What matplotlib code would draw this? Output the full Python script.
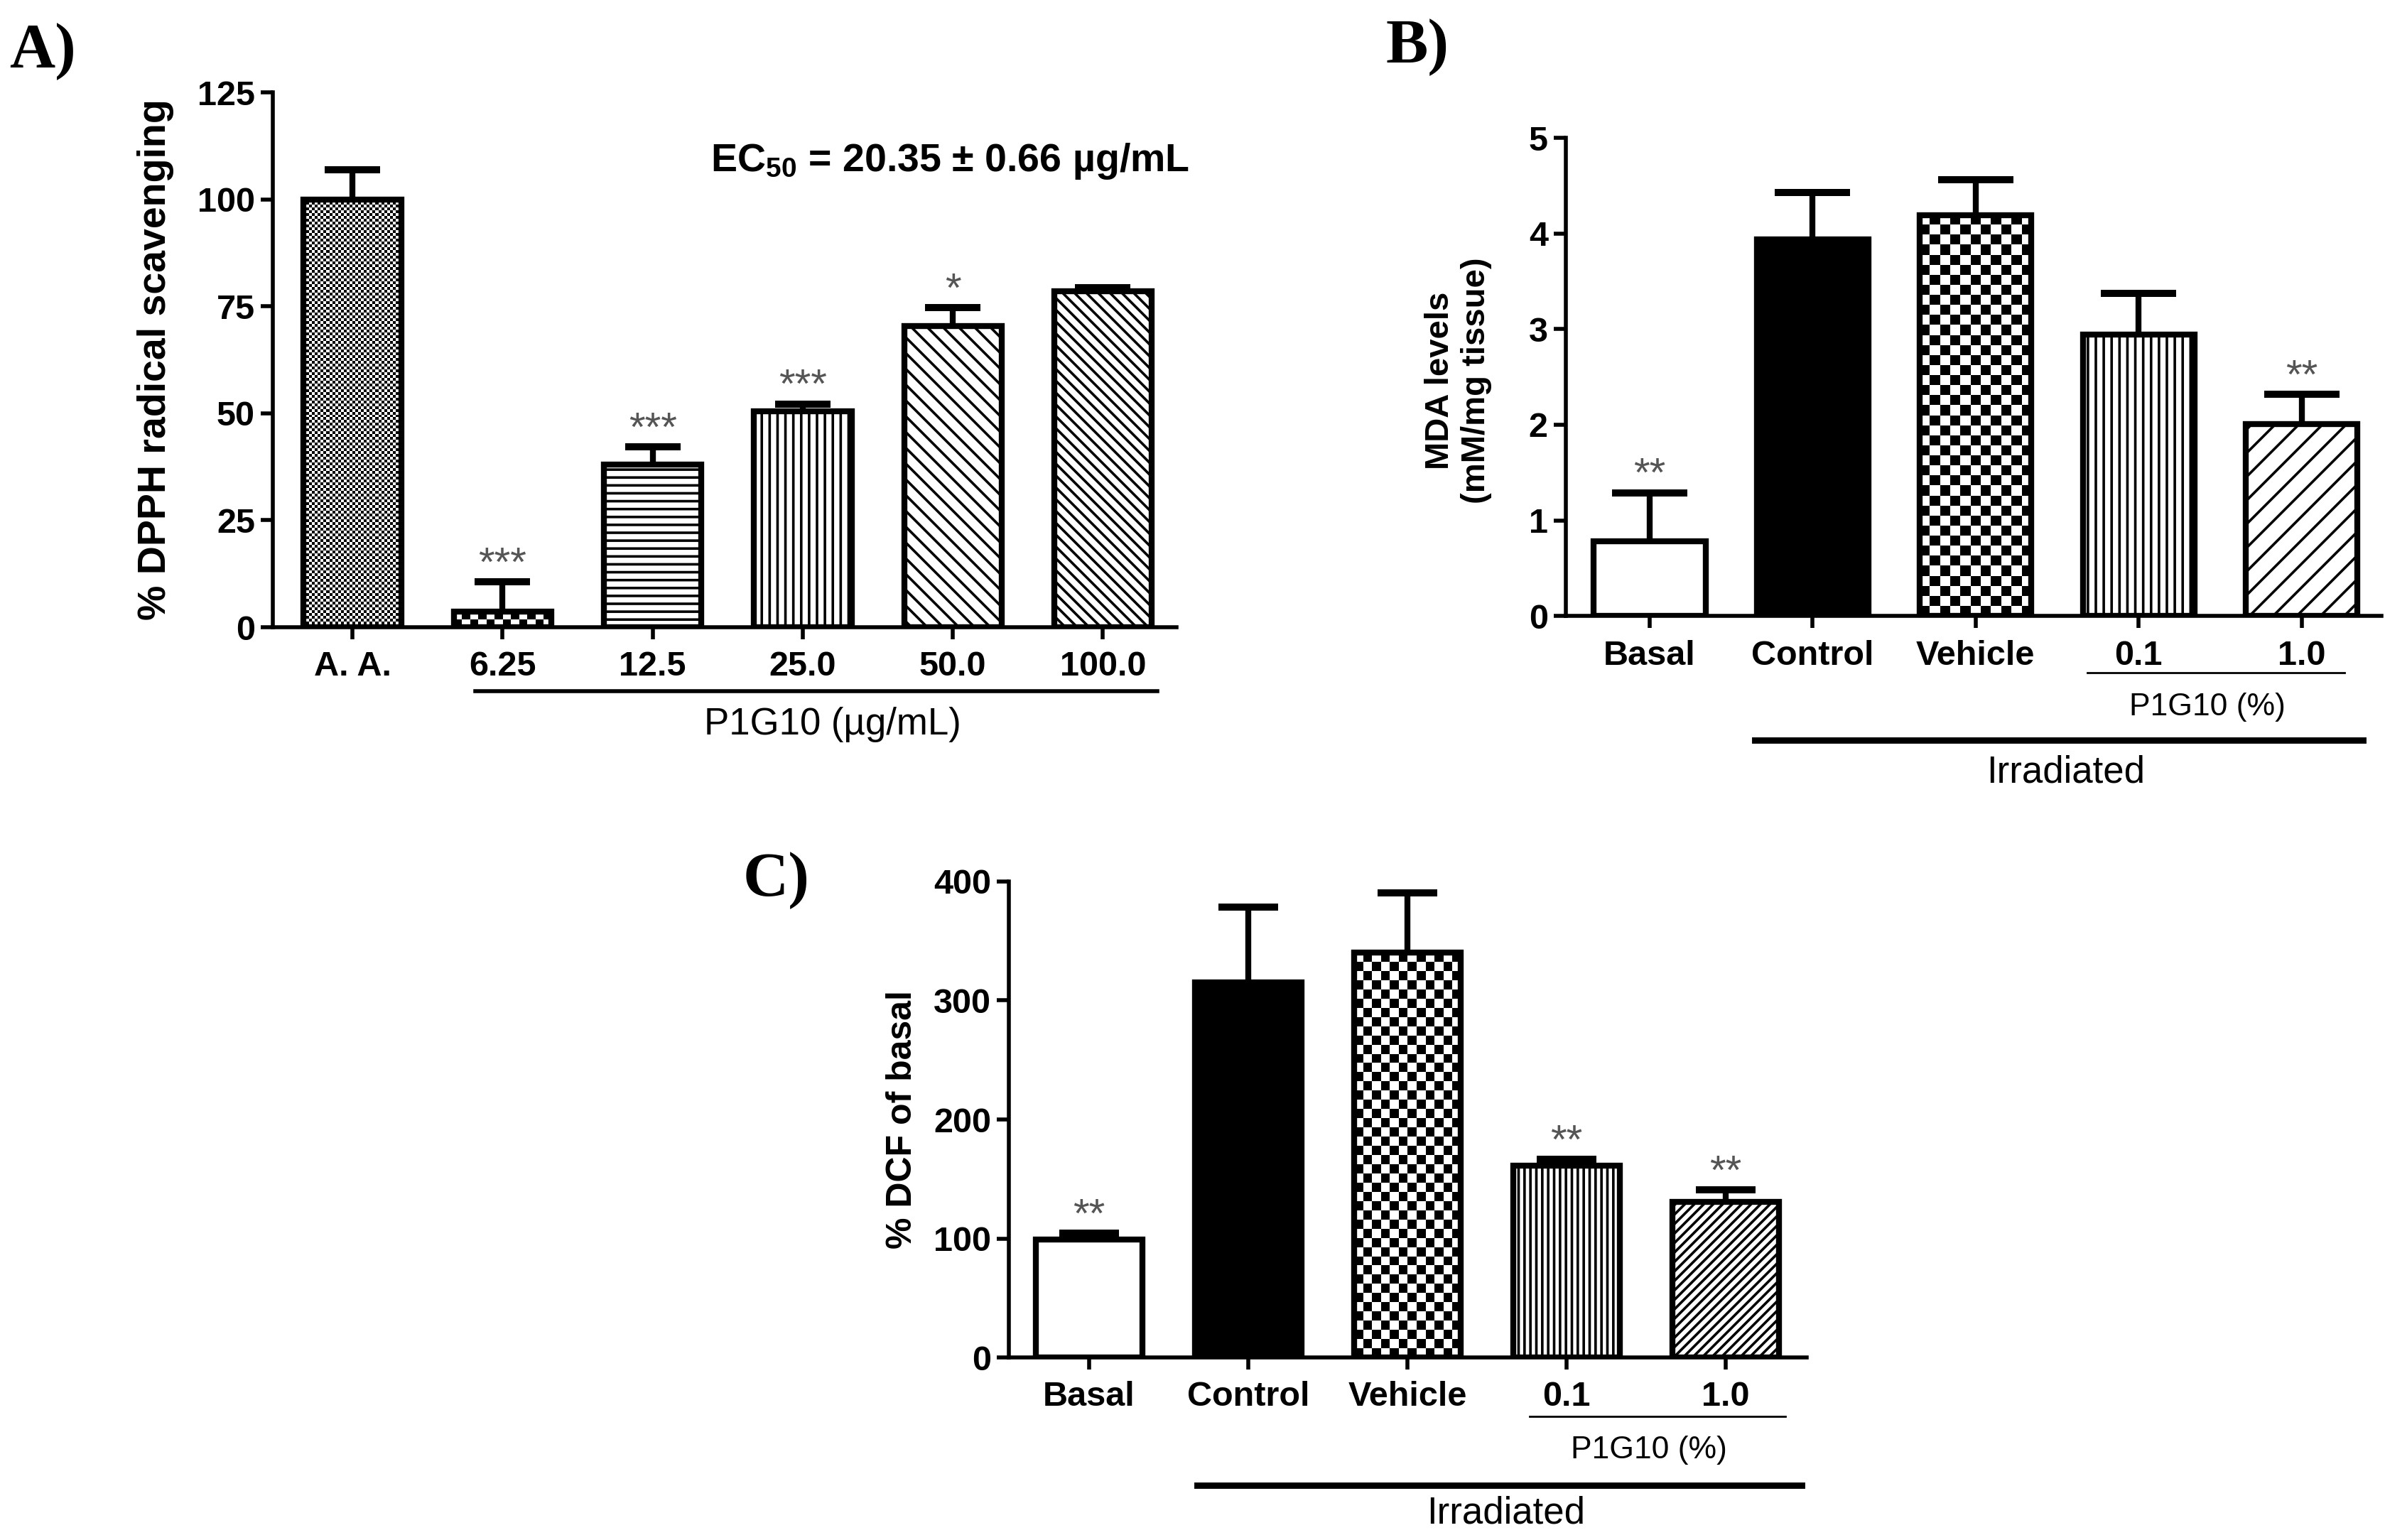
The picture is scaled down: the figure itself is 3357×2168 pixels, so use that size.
import numpy as np
import matplotlib
matplotlib.use("Agg")
import matplotlib.pyplot as plt

plt.rcParams['font.family'] = ['Liberation Sans', 'DejaVu Sans']
plt.rcParams['mathtext.fontset'] = 'custom'
plt.rcParams['mathtext.rm'] = 'Liberation Sans:bold'
plt.rcParams['mathtext.bf'] = 'Liberation Sans:bold'
plt.rcParams['mathtext.it'] = 'Liberation Sans:bold'
plt.rcParams['hatch.linewidth'] = 1.3

# panel A - DPPH
a_labels = ['A. A.', '6.25', '12.5', '25.0', '50.0', '100.0']
a_mean = [100, 3.7, 38, 50.4, 70.4, 78.6]
a_err = [7, 6.9, 4.2, 1.8, 4.3, 0.8]
a_stars = ['', '***', '***', '***', '*', '']

# panel B - MDA
b_labels = ['Basal', 'Control', 'Vehicle', '0.1', '1.0']
b_mean = [0.78, 3.94, 4.19, 2.94, 2.01]
b_err = [0.51, 0.49, 0.37, 0.43, 0.31]
b_stars = ['**', '', '', '', '**']

# panel C - DCF
c_labels = ['Basal', 'Control', 'Vehicle', '0.1', '1.0']
c_mean = [99, 315.5, 340, 161, 130.8]
c_err = [5.4, 63, 50.6, 5.4, 10.2]
c_stars = ['**', '', '', '**', '**']

W, H, DPI = 3357, 2168, 200
fig = plt.figure(figsize=(W / DPI, H / DPI), dpi=DPI)

STAR_COLOR = '#555555'


def checker(ax, patch, cell):
    # draw a checkerboard texture inside a bar, clipped to the bar
    x0, y0 = patch.get_x(), patch.get_y()
    w, h = patch.get_width(), patch.get_height()
    p0 = ax.transData.transform((x0, y0))
    p1 = ax.transData.transform((x0 + w, y0 + h))
    nx = max(1, int(round((p1[0] - p0[0]) / cell)))
    ny = max(1, int(round((p1[1] - p0[1]) / cell)))
    grid = np.indices((ny, nx)).sum(axis=0) % 2
    im = ax.imshow(grid, cmap='gray', extent=(x0, x0 + w, y0, y0 + h),
                   aspect='auto', interpolation='nearest', origin='lower',
                   zorder=1.5)
    im.set_clip_path(patch)


def panel(rect, labels, mean, err, stars, width, xlim, ylim, yticks,
          styles, capsize):
    ax = fig.add_axes(rect)
    ax.set_xlim(*xlim)
    ax.set_ylim(*ylim)
    x = np.arange(len(labels))
    eb = ax.errorbar(x, mean, yerr=[np.zeros(len(mean)), err], fmt='none',
                     ecolor='black', elinewidth=3, capsize=capsize,
                     capthick=3.6, zorder=1)
    eb[1][0].set_visible(False)
    bars = ax.bar(x, mean, width, edgecolor='black', linewidth=3, zorder=2)
    for b, st in zip(bars, styles):
        kind, val = st
        if kind == 'fill':
            b.set_facecolor(val)
        elif kind == 'hatch':
            b.set_facecolor('white')
            b.set_hatch(val)
        elif kind == 'checker':
            b.set_facecolor('none')
            checker(ax, b, val)
    for xi, m, e, s in zip(x, mean, err, stars):
        if s:
            ax.annotate(s, (xi, m + e), xytext=(0, 3), textcoords='offset points',
                        ha='center', va='baseline', fontsize=21, color=STAR_COLOR)
    ax.set_xlim(*xlim)
    ax.set_ylim(*ylim)
    ax.set_xticks(x)
    ax.set_xticklabels(labels, fontsize=17.5, fontweight='bold')
    ax.set_yticks(yticks)
    ax.set_yticklabels([str(t) for t in yticks], fontsize=17.5, fontweight='bold')
    for side in ['top', 'right']:
        ax.spines[side].set_visible(False)
    for side in ['left', 'bottom']:
        ax.spines[side].set_linewidth(2)
    ax.tick_params(axis='both', width=2, length=6)
    ax.tick_params(axis='x', pad=6)
    ax.tick_params(axis='y', pad=3)
    return ax


# ---- A ----
axA = panel([0.1144, 0.5927, 0.3789, 0.3473], a_labels, a_mean, a_err, a_stars,
            0.65, (-0.53, 5.49), (0, 125), [0, 25, 50, 75, 100, 125],
            [('checker', 4), ('checker', 11), ('hatch', '---'), ('hatch', '|||'),
             ('hatch', '\\\\\\'), ('hatch', '\\\\\\\\')], 14)
axA.set_ylabel('% DPPH radical scavenging', fontsize=20, fontweight='bold', va='center')
axA.yaxis.set_label_coords(-0.13, 0.5)
axA.text(3.98, 108.9, 'EC$_{50}$ = 20.35 ± 0.66 µg/mL', ha='center', va='center',
         fontsize=20, fontweight='bold')
tA = axA.get_xaxis_transform()
axA.plot([0.82, 5.36], [-0.1195, -0.1195], color='black', lw=2, transform=tA, clip_on=False)
axA.text(3.2, -0.182, 'P1G10 (µg/mL)', transform=tA, ha='center', va='center', fontsize=19)

# ---- B ----
axB = panel([0.6565, 0.600, 0.342, 0.3105], b_labels, b_mean, b_err, b_stars,
            0.685, (-0.515, 4.49), (0, 5), [0, 1, 2, 3, 4, 5],
            [('fill', 'white'), ('fill', 'black'), ('checker', 14),
             ('hatch', '|||'), ('hatch', '//')], 19)
axB.set_ylabel('MDA levels\n(mM/mg tissue)', fontsize=17, fontweight='bold',
               va='center', linespacing=1.2)
axB.yaxis.set_label_coords(-0.132, 0.493)
tB = axB.get_xaxis_transform()
axB.plot([2.686, 4.262], [-0.119, -0.119], color='black', lw=1, transform=tB, clip_on=False)
axB.text(3.42, -0.19, 'P1G10 (%)', transform=tB, ha='center', va='center', fontsize=16)
axB.plot([0.646, 4.376], [-0.26, -0.26], color='black', lw=3.2, transform=tB, clip_on=False)
axB.text(2.555, -0.328, 'Irradiated', transform=tB, ha='center', va='center', fontsize=19)

# ---- C ----
axC = panel([0.423, 0.1185, 0.3345, 0.3091], c_labels, c_mean, c_err, c_stars,
            0.67, (-0.505, 4.51), (0, 400), [0, 100, 200, 300, 400],
            [('fill', 'white'), ('fill', 'black'), ('checker', 13),
             ('hatch', '||||'), ('hatch', '/////')], 15)
axC.set_ylabel('% DCF of basal', fontsize=18, fontweight='bold', va='center')
axC.yaxis.set_label_coords(-0.134, 0.5)
tC = axC.get_xaxis_transform()
axC.plot([2.77, 4.375], [-0.124, -0.124], color='black', lw=1, transform=tC, clip_on=False)
axC.text(3.52, -0.195, 'P1G10 (%)', transform=tC, ha='center', va='center', fontsize=16)
axC.plot([0.68, 4.48], [-0.269, -0.269], color='black', lw=3.2, transform=tC, clip_on=False)
axC.text(2.62, -0.327, 'Irradiated', transform=tC, ha='center', va='center', fontsize=19)

# panel letters
for lab, fx, fy in [('A)', 0.004, 0.985), ('B)', 0.581, 0.988), ('C)', 0.3116, 0.447)]:
    fig.text(fx, fy, lab, family='Liberation Serif', fontweight='bold', fontsize=32,
             ha='left', va='top')

fig.savefig('out.png', dpi=DPI, facecolor='white')
